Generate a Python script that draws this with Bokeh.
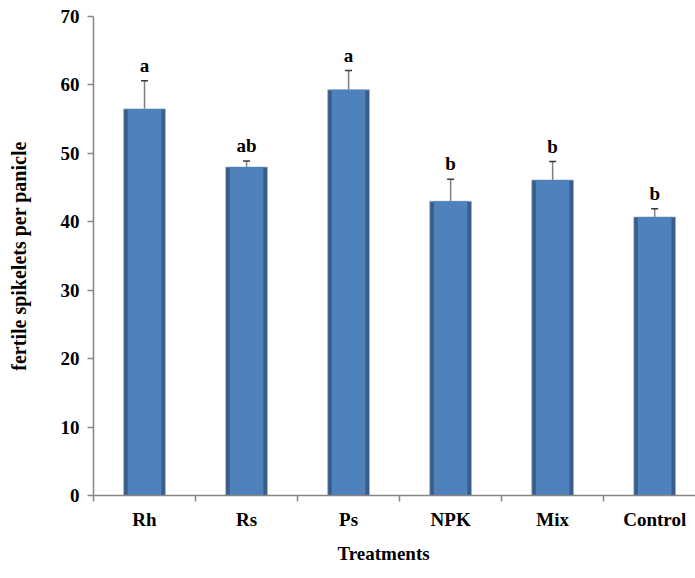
from bokeh.plotting import figure
from bokeh.models import (ColumnDataSource, FixedTicker, Whisker, TeeHead, Title,
                          Range1d, LabelSet)
from bokeh.embed import file_html
from bokeh.resources import INLINE

treatments = ["Rh", "Rs", "Ps", "NPK", "Mix", "Control"]
means = [56.5, 48.0, 59.3, 43.0, 46.1, 40.7]
err_upper = [60.6, 48.9, 62.1, 46.2, 48.8, 41.9]
err_lower = [55.5, 47.1, 58.4, 42.0, 45.4, 39.8]
letters = ["a", "ab", "a", "b", "b", "b"]
y_ticks = [0, 10, 20, 30, 40, 50, 60, 70]
x_title = "Treatments"

idx = list(range(len(treatments)))
src = ColumnDataSource(dict(x=idx, top=means, upper=err_upper, lower=err_lower,
                            letter=letters))

FONT = "Liberation Serif"

p = figure(width=695, height=578, output_backend="svg", toolbar_location=None,
           x_range=Range1d(-0.5, 5.4), y_range=Range1d(0, 70),
           min_border_left=93, min_border_top=16, min_border_right=0,
           min_border_bottom=83)
p.grid.visible = False
p.outline_line_color = None
p.background_fill_color = "white"
p.border_fill_color = "white"

# bars with shaded edges
p.vbar(x="x", top="top", width=0.41, bottom=0, source=src,
       fill_color="#385d8a", line_color="#9fb7d6", line_width=0.8)
p.vbar(x="x", top="top", width=0.33, bottom=0, source=src,
       fill_color="#4f81bd", line_color=None)

w = Whisker(base="x", upper="upper", lower="lower", source=src,
            line_color="#7f7f7f", line_width=1.5,
            upper_head=TeeHead(size=7, line_color="#3a3a3a", line_width=1.5),
            lower_head=TeeHead(size=7, line_color="#3a3a3a", line_width=1.5))
p.add_layout(w)

labels = LabelSet(x="x", y="upper", text="letter", source=src,
                  text_font=FONT, text_font_style="bold", text_font_size="19px",
                  text_align="center", text_baseline="bottom", y_offset=5,
                  text_color="black")
p.add_layout(labels)

# y axis
p.yaxis.ticker = FixedTicker(ticks=y_ticks)
p.yaxis.minor_tick_line_color = None
p.yaxis.major_tick_out = 6
p.yaxis.major_tick_in = 0
p.yaxis.axis_line_color = "#868686"
p.yaxis.axis_line_width = 1.5
p.yaxis.major_tick_line_color = "#868686"
p.yaxis.major_tick_line_width = 1.5
p.yaxis.major_label_text_font = FONT
p.yaxis.major_label_text_font_style = "bold"
p.yaxis.major_label_text_font_size = "19px"
p.yaxis.major_label_text_color = "black"
p.yaxis.major_label_standoff = 8
p.yaxis.axis_label = "fertile spikelets per panicle"
p.yaxis.axis_label_text_font = FONT
p.yaxis.axis_label_text_font_style = "bold"
p.yaxis.axis_label_text_font_size = "20px"
p.yaxis.axis_label_text_color = "black"
p.yaxis.axis_label_standoff = 28

# x axis: labels at category centres, tick marks at boundaries
boundaries = [i - 0.5 for i in idx] + [idx[-1] + 0.5]
p.xaxis.ticker = FixedTicker(ticks=idx, minor_ticks=boundaries)
p.xaxis.major_label_overrides = {i: t for i, t in zip(idx, treatments)}
p.xaxis.major_tick_out = 0
p.xaxis.major_tick_in = 0
p.xaxis.minor_tick_out = 6
p.xaxis.minor_tick_in = 0
p.xaxis.minor_tick_line_color = "#868686"
p.xaxis.minor_tick_line_width = 1.5
p.xaxis.axis_line_color = "#868686"
p.xaxis.axis_line_width = 1.5
p.xaxis.major_label_text_font = FONT
p.xaxis.major_label_text_font_style = "bold"
p.xaxis.major_label_text_font_size = "19px"
p.xaxis.major_label_text_color = "black"
p.xaxis.major_label_standoff = 7

t = Title(text=x_title, align="left", offset=244, vertical_align="top",
          text_font=FONT, text_font_style="bold", text_font_size="19px",
          text_color="black", standoff=21)
p.add_layout(t, "below")

open("out.html", "w").write(file_html(p, INLINE))
